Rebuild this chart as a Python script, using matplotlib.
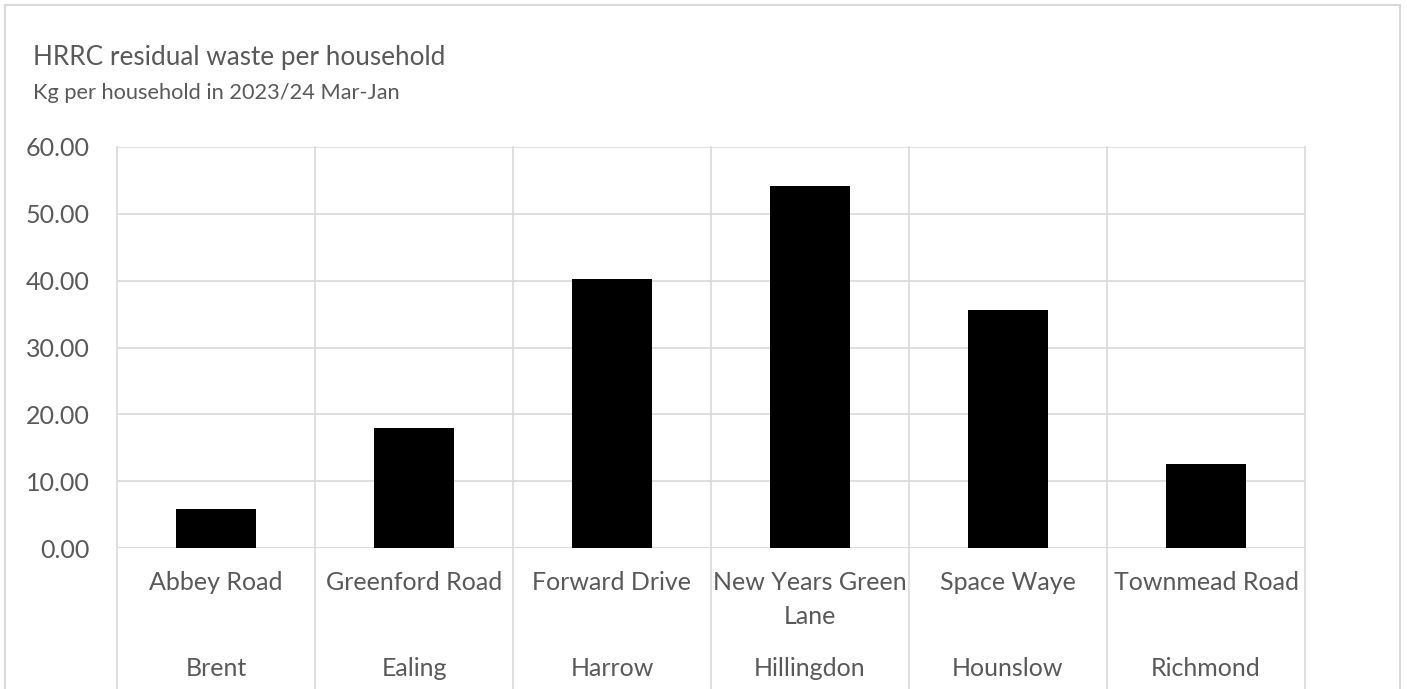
import matplotlib.pyplot as plt
from matplotlib.patches import Rectangle
from matplotlib.lines import Line2D

sites = ["Abbey Road", "Greenford Road", "Forward Drive", "New Years Green\nLane", "Space Waye", "Townmead Road"]
boroughs = ["Brent", "Ealing", "Harrow", "Hillingdon", "Hounslow", "Richmond"]
kg_per_household = [5.85, 17.95, 40.25, 54.15, 35.55, 12.6]
yticks = [0, 10, 20, 30, 40, 50, 60]

W, H = 1407, 689
txt = "#595959"
grid = "#d9d9d9"
plt.rcParams['font.family'] = ['Lato', 'DejaVu Sans']

fig = plt.figure(figsize=(W / 100, H / 100), dpi=100)

# outer chart frame
fig.patches.append(Rectangle((5 / W, -0.1), 1395 / W, 1.1 - 5 / H, transform=fig.transFigure,
                             fill=False, edgecolor=grid, linewidth=1.5))

ax = fig.add_axes([117 / W, (H - 548) / H, 1188 / W, 401 / H])
n = len(sites)
x = list(range(n))
ax.bar(x, kg_per_household, width=0.4, color="black", zorder=3)
ax.set_xlim(-0.5, n - 0.5)
ax.set_ylim(0, 60)
ax.set_yticks(yticks)
ax.set_yticklabels([f"{v:.2f}" for v in yticks], color=txt, fontsize=18)
ax.tick_params(axis="y", length=0, pad=19.5)
ax.tick_params(axis="x", length=0)
ax.set_xticks([])
for s in ax.spines.values():
    s.set_visible(False)
ax.grid(axis="y", color=grid, linewidth=1.2, zorder=0)
ax.axhline(0, color=grid, linewidth=1.2, zorder=1)

# category boundaries running down through the label rows
for b in range(n + 1):
    ax.add_line(Line2D([b - 0.5, b - 0.5], [60, -30], color=grid, linewidth=1.2,
                       clip_on=False, zorder=1))

px = 401 / 60  # pixels per data unit
for i in range(n):
    for k, line in enumerate(sites[i].split("\n")):
        ax.text(i, -(35 + 33 * k) / px, line, ha="center", va="center", color=txt, fontsize=18)
    ax.text(i, -121 / px, boroughs[i], ha="center", va="center", color=txt, fontsize=18)

fig.text(33 / W, 1 - 57 / H, "HRRC residual waste per household", ha="left", va="center",
         color=txt, fontsize=18.8)
fig.text(33 / W, 1 - 93 / H, "Kg per household in 2023/24 Mar-Jan", ha="left", va="center",
         color=txt, fontsize=15.7)

fig.savefig("out.png", dpi=100, facecolor="white")
